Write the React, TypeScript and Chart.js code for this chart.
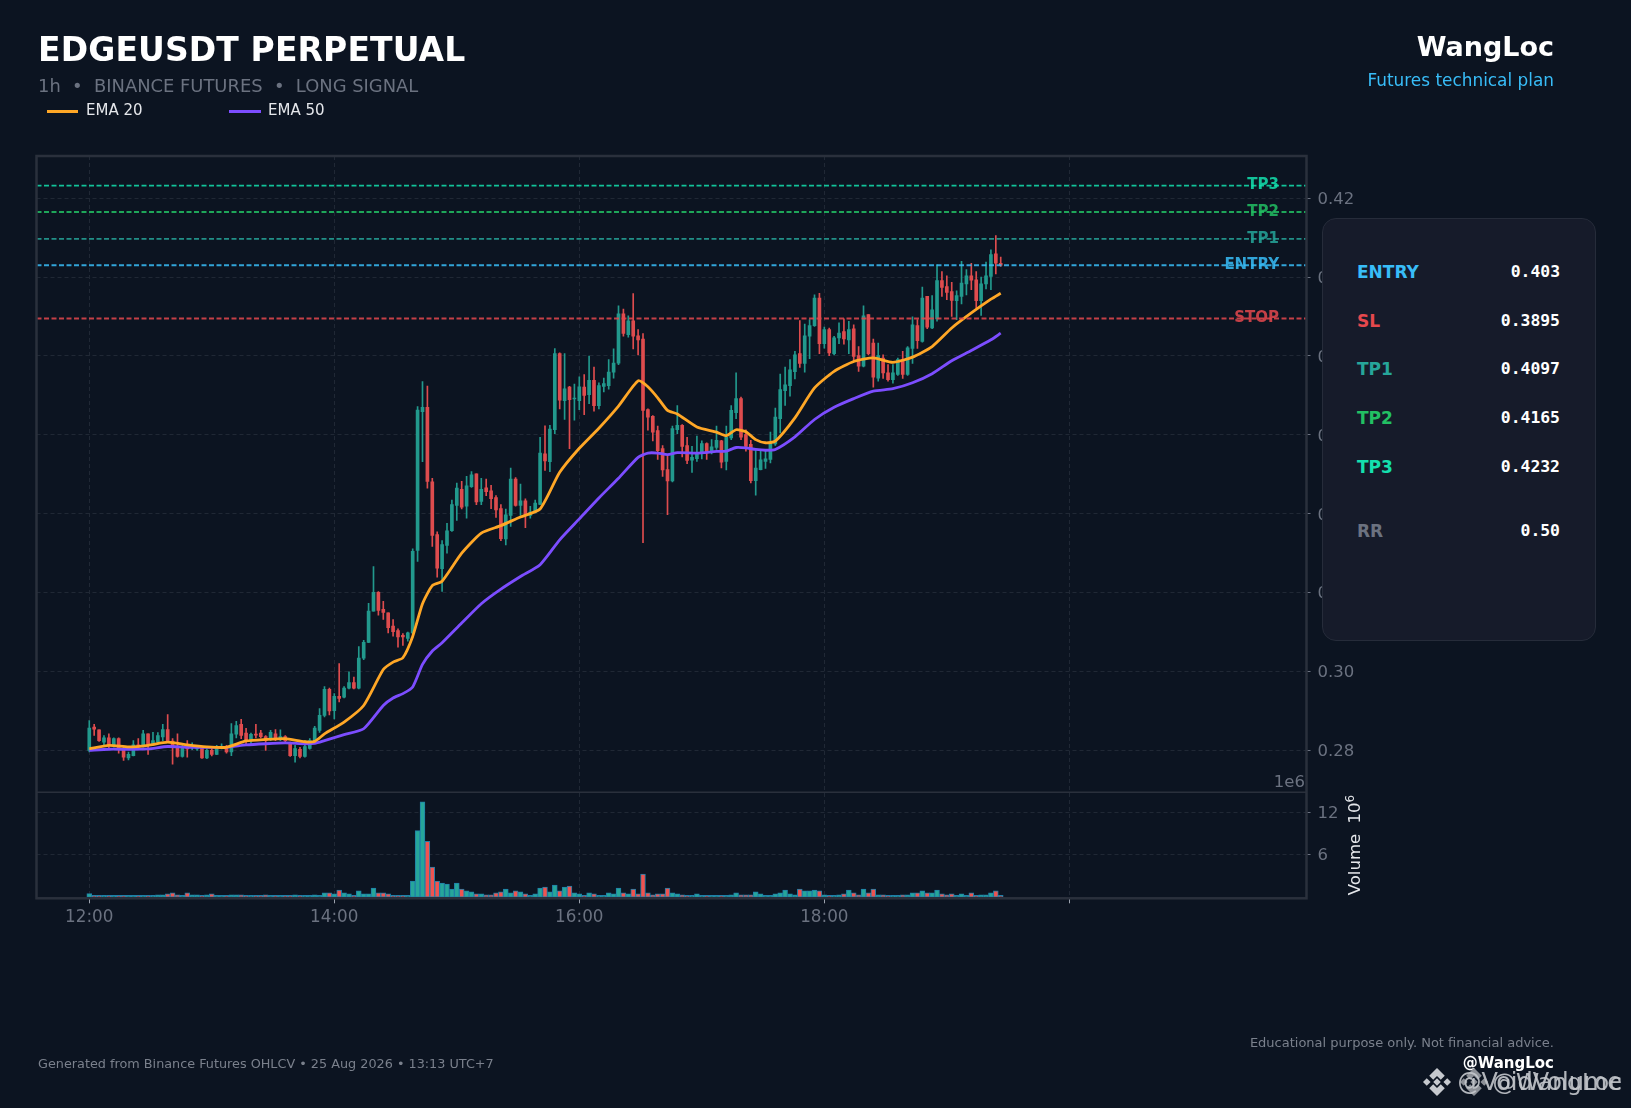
import { useEffect, useRef } from "react";
import { Chart, registerables } from "chart.js";
import type { ChartConfiguration, Plugin } from "chart.js";

Chart.register(...registerables);

const opens = [
  0.28, 0.2859, 0.2852, 0.2821, 0.2832, 0.2814, 0.283, 0.2803, 0.2781, 0.2787,
  0.2814, 0.281, 0.2842, 0.2814, 0.2821, 0.2834, 0.2853, 0.2824, 0.2808, 0.2785,
  0.2808, 0.2807, 0.2804, 0.2807, 0.2781, 0.28, 0.279, 0.2807, 0.2808, 0.2796,
  0.2841, 0.2866, 0.2844, 0.2824, 0.2841, 0.2844, 0.2835, 0.283, 0.2842, 0.283,
  0.2835, 0.2817, 0.2787, 0.2803, 0.2785, 0.2805, 0.2821, 0.2851, 0.2889, 0.2955,
  0.2901, 0.2937, 0.2935, 0.2958, 0.2972, 0.2958, 0.3034, 0.3074, 0.3153, 0.3201,
  0.3158, 0.3149, 0.3115, 0.3104, 0.3092, 0.3084, 0.3098, 0.3307, 0.3659, 0.367,
  0.3481, 0.3347, 0.3261, 0.332, 0.3357, 0.3421, 0.3462, 0.3419, 0.3469, 0.3501,
  0.3431, 0.3466, 0.3458, 0.3441, 0.3413, 0.3336, 0.3396, 0.3488, 0.3421, 0.3433,
  0.3396, 0.3404, 0.3424, 0.3552, 0.3532, 0.3613, 0.3806, 0.3687, 0.3721, 0.3691,
  0.3687, 0.3721, 0.3702, 0.3738, 0.3674, 0.3723, 0.3725, 0.3759, 0.3782, 0.3907,
  0.3854, 0.3889, 0.3851, 0.3843, 0.3664, 0.3647, 0.3611, 0.3565, 0.3512, 0.3483,
  0.3613, 0.3624, 0.3573, 0.3536, 0.354, 0.3554, 0.3578, 0.3557, 0.3568, 0.3585,
  0.3533, 0.3592, 0.3656, 0.3692, 0.3601, 0.3576, 0.3484, 0.3512, 0.3533, 0.3538,
  0.3577, 0.3641, 0.3712, 0.3725, 0.376, 0.3806, 0.3781, 0.385, 0.3877, 0.3947,
  0.3831, 0.3867, 0.3806, 0.3846, 0.3862, 0.3841, 0.3869, 0.3801, 0.3774, 0.3905,
  0.3833, 0.3744, 0.3795, 0.3757, 0.374, 0.3753, 0.3791, 0.3753, 0.3819, 0.3877,
  0.3837, 0.3951, 0.3871, 0.3894, 0.3991, 0.3976, 0.3963, 0.394, 0.3951, 0.3983,
  0.4003, 0.3993, 0.394, 0.3983, 0.4002, 0.4059, 0.4035,
];

const closes = [
  0.2857, 0.2854, 0.2825, 0.2832, 0.2813, 0.283, 0.2804, 0.2783, 0.279, 0.2814,
  0.2808, 0.2842, 0.2813, 0.2825, 0.2838, 0.2853, 0.2825, 0.2808, 0.2785, 0.2808,
  0.2804, 0.2813, 0.2808, 0.2781, 0.28, 0.279, 0.2808, 0.281, 0.2796, 0.2842,
  0.2863, 0.2838, 0.2824, 0.2841, 0.2839, 0.2835, 0.2825, 0.2846, 0.283, 0.2835,
  0.2825, 0.2787, 0.2805, 0.2785, 0.281, 0.2825, 0.2857, 0.2889, 0.2955, 0.29,
  0.2937, 0.2932, 0.2958, 0.2972, 0.2958, 0.3034, 0.3074, 0.3153, 0.3201, 0.3155,
  0.315, 0.3111, 0.3101, 0.3088, 0.3088, 0.3098, 0.3305, 0.3663, 0.367, 0.3482,
  0.3345, 0.3262, 0.3322, 0.3357, 0.3423, 0.3465, 0.3417, 0.3471, 0.3499, 0.343,
  0.3462, 0.3456, 0.3438, 0.341, 0.3337, 0.3397, 0.3488, 0.3421, 0.3433, 0.3397,
  0.3404, 0.3427, 0.3554, 0.3534, 0.3615, 0.3806, 0.3688, 0.3717, 0.3689, 0.3692,
  0.3722, 0.37, 0.3738, 0.3674, 0.3725, 0.373, 0.3759, 0.3782, 0.3907, 0.3857,
  0.3889, 0.385, 0.3841, 0.3662, 0.3645, 0.3607, 0.356, 0.3511, 0.3483, 0.3616,
  0.3624, 0.3571, 0.3535, 0.3543, 0.3554, 0.3578, 0.3554, 0.357, 0.3586, 0.3531,
  0.3594, 0.3662, 0.3692, 0.3594, 0.3571, 0.3484, 0.3516, 0.3537, 0.3539, 0.358,
  0.3645, 0.3715, 0.3727, 0.3765, 0.3803, 0.3781, 0.3851, 0.3877, 0.3947, 0.3831,
  0.3867, 0.3808, 0.3846, 0.3858, 0.3843, 0.3867, 0.3799, 0.3774, 0.3902, 0.3806,
  0.3746, 0.3801, 0.3757, 0.374, 0.3757, 0.3791, 0.3753, 0.3821, 0.3879, 0.3839,
  0.3947, 0.3873, 0.3917, 0.3991, 0.3974, 0.3961, 0.3941, 0.3953, 0.3985, 0.4003,
  0.3992, 0.394, 0.3983, 0.4003, 0.4057, 0.4035, 0.403,
];

const highs = [
  0.2876, 0.2866, 0.2852, 0.2838, 0.2842, 0.2832, 0.2832, 0.2808, 0.2796, 0.2825,
  0.283, 0.2851, 0.2842, 0.2846, 0.2845, 0.2866, 0.2891, 0.283, 0.2842, 0.2813,
  0.2825, 0.2819, 0.2813, 0.2808, 0.2804, 0.2808, 0.2813, 0.2817, 0.2813, 0.2868,
  0.2874, 0.2879, 0.2856, 0.2844, 0.2866, 0.2851, 0.2838, 0.2851, 0.2853, 0.2852,
  0.2838, 0.2821, 0.2813, 0.2808, 0.2825, 0.283, 0.2861, 0.2906, 0.2962, 0.2958,
  0.2944, 0.302, 0.2962, 0.2999, 0.2986, 0.3063, 0.3079, 0.3173, 0.3266, 0.3203,
  0.3178, 0.3149, 0.3132, 0.3108, 0.3096, 0.31, 0.3311, 0.3672, 0.3735, 0.3724,
  0.349, 0.3354, 0.3332, 0.3376, 0.3435, 0.3478, 0.3482, 0.3495, 0.3507, 0.3501,
  0.349, 0.3488, 0.3472, 0.3446, 0.3423, 0.3412, 0.3516, 0.3492, 0.3475, 0.3438,
  0.3419, 0.3435, 0.3594, 0.3623, 0.3624, 0.3819, 0.3808, 0.3806, 0.3723, 0.3729,
  0.3747, 0.3753, 0.38, 0.3772, 0.3732, 0.3744, 0.3791, 0.3818, 0.3927, 0.3919,
  0.3902, 0.3958, 0.3867, 0.3857, 0.3666, 0.3649, 0.3622, 0.3573, 0.3549, 0.3622,
  0.3674, 0.3626, 0.3594, 0.3571, 0.3597, 0.3585, 0.358, 0.3588, 0.3622, 0.3586,
  0.3622, 0.3674, 0.3757, 0.3696, 0.3613, 0.3586, 0.3561, 0.3559, 0.3563, 0.3607,
  0.3668, 0.3754, 0.3772, 0.3791, 0.3812, 0.389, 0.3881, 0.3892, 0.3955, 0.3959,
  0.3873, 0.3871, 0.385, 0.3884, 0.3894, 0.3888, 0.3879, 0.3824, 0.3927, 0.3905,
  0.3843, 0.3833, 0.3803, 0.3778, 0.3778, 0.3795, 0.3812, 0.3824, 0.3899, 0.3892,
  0.3975, 0.3951, 0.3953, 0.4031, 0.4014, 0.4003, 0.3987, 0.3965, 0.404, 0.4019,
  0.4035, 0.4014, 0.4, 0.4038, 0.4069, 0.4105, 0.4051,
];

const lows = [
  0.2796, 0.2838, 0.2823, 0.2813, 0.2804, 0.2808, 0.2793, 0.2775, 0.2776, 0.2786,
  0.2804, 0.2808, 0.279, 0.2813, 0.2817, 0.2825, 0.2824, 0.2765, 0.2783, 0.2783,
  0.2783, 0.2802, 0.28, 0.278, 0.2779, 0.2786, 0.2789, 0.2804, 0.2793, 0.2787,
  0.2832, 0.283, 0.2817, 0.2817, 0.2832, 0.2832, 0.28, 0.2825, 0.2825, 0.2825,
  0.2821, 0.2785, 0.277, 0.2781, 0.2783, 0.2803, 0.2817, 0.2846, 0.2885, 0.289,
  0.288, 0.2923, 0.2933, 0.2956, 0.2956, 0.2956, 0.303, 0.3073, 0.3153, 0.3143,
  0.3132, 0.3098, 0.309, 0.3062, 0.3066, 0.3077, 0.3096, 0.3279, 0.3532, 0.3465,
  0.3317, 0.3239, 0.3203, 0.33, 0.3355, 0.3383, 0.3412, 0.3389, 0.3467, 0.3423,
  0.3423, 0.3446, 0.3413, 0.3391, 0.3332, 0.3321, 0.3368, 0.3419, 0.3396, 0.3365,
  0.3389, 0.3402, 0.3423, 0.351, 0.3507, 0.3603, 0.3666, 0.3639, 0.3565, 0.3637,
  0.3664, 0.3651, 0.3679, 0.366, 0.3666, 0.3709, 0.3716, 0.3744, 0.3778, 0.385,
  0.3848, 0.3818, 0.3803, 0.3327, 0.3612, 0.3585, 0.3538, 0.3495, 0.3398, 0.3481,
  0.3603, 0.3544, 0.3527, 0.3505, 0.3533, 0.3539, 0.3538, 0.3552, 0.3563, 0.3516,
  0.3511, 0.3588, 0.3641, 0.3588, 0.3559, 0.3478, 0.3447, 0.3511, 0.3515, 0.3529,
  0.3573, 0.3605, 0.3675, 0.3698, 0.3742, 0.3771, 0.3759, 0.3793, 0.3875, 0.3806,
  0.382, 0.3801, 0.3803, 0.3831, 0.383, 0.3806, 0.3788, 0.3761, 0.3772, 0.3803,
  0.3721, 0.3736, 0.3743, 0.3736, 0.3731, 0.3751, 0.3743, 0.3751, 0.3781, 0.3819,
  0.3835, 0.3869, 0.3869, 0.3888, 0.3951, 0.3943, 0.39, 0.3892, 0.3932, 0.3955,
  0.3968, 0.3922, 0.3903, 0.397, 0.3968, 0.4008, 0.4027,
];

// volume in millions
const volumes = [
  0.51, 0.19, 0.05, 0.19, 0.05, 0.05, 0.05, 0.19, 0.19, 0.05,
  0.05, 0.19, 0.19, 0.19, 0.33, 0.33, 0.47, 0.61, 0.33, 0.19,
  0.61, 0.33, 0.33, 0.09, 0.33, 0.47, 0.19, 0.19, 0.09, 0.33,
  0.33, 0.33, 0.05, 0.05, 0.05, 0.05, 0.33, 0.19, 0.19, 0.05,
  0.05, 0.19, 0.33, 0.05, 0.05, 0.05, 0.33, 0.19, 0.61, 0.61,
  0.47, 1.03, 0.61, 0.47, 0.19, 0.89, 0.47, 0.47, 1.31, 0.61,
  0.61, 0.47, 0.19, 0.19, 0.19, 0.14, 2.29, 9.43, 13.5, 7.9,
  4.25, 2.29, 2.0, 1.87, 1.17, 2.0, 1.17, 0.89, 0.75, 0.47,
  0.47, 0.33, 0.33, 0.61, 0.75, 1.17, 0.61, 0.89, 0.75, 0.47,
  0.28, 0.47, 1.31, 1.45, 0.75, 1.73, 0.89, 1.45, 1.59, 0.61,
  0.47, 0.28, 0.61, 0.47, 0.19, 0.19, 0.61, 0.47, 1.31, 0.61,
  0.47, 1.17, 0.47, 3.27, 0.61, 0.33, 0.47, 0.47, 1.31, 0.61,
  0.47, 0.33, 0.19, 0.19, 0.47, 0.09, 0.09, 0.19, 0.19, 0.19,
  0.19, 0.33, 0.61, 0.33, 0.33, 0.33, 0.75, 0.47, 0.19, 0.19,
  0.47, 0.61, 1.03, 0.47, 0.33, 1.17, 0.89, 0.89, 1.03, 0.89,
  0.33, 0.19, 0.19, 0.33, 0.47, 1.03, 0.61, 0.33, 1.17, 0.61,
  1.17, 0.33, 0.33, 0.19, 0.19, 0.09, 0.33, 0.33, 0.61, 0.61,
  0.89, 0.61, 0.61, 1.03, 0.47, 0.33, 0.47, 0.19, 0.47, 0.19,
  0.61, 0.19, 0.33, 0.33, 0.61, 0.89, 0.09,
];

const emaIndex = [
  0, 4, 8, 12, 16, 20, 24, 28, 32, 36, 40, 44, 46, 48, 52, 56, 60, 62, 64, 66,
  68, 70, 72, 76, 80, 84, 88, 92, 96, 100, 104, 108, 112, 114, 116, 118, 120,
  124, 128, 130, 132, 134, 136, 138, 140, 144, 148, 152, 156, 160, 164, 168,
  172, 176, 180, 184, 186,
];
const ema20 = [
  0.2804, 0.2813, 0.2809, 0.2813, 0.2821, 0.2814, 0.2809, 0.2808, 0.2824, 0.2828,
  0.283, 0.2822, 0.2823, 0.2842, 0.2872, 0.2914, 0.3005, 0.3024, 0.3035, 0.3089,
  0.3172, 0.3218, 0.3229, 0.33, 0.3351, 0.337, 0.3392, 0.3412, 0.3505, 0.3566,
  0.3617, 0.3673, 0.3737, 0.3722, 0.3694, 0.3662, 0.3653, 0.362, 0.3607, 0.3598,
  0.3613, 0.3608, 0.3588, 0.358, 0.3584, 0.3643, 0.3719, 0.3761, 0.3786, 0.3795,
  0.3784, 0.3797, 0.3824, 0.3871, 0.3909, 0.3944, 0.3959,
];
const ema50 = [
  0.28, 0.2803, 0.2803, 0.2804, 0.281, 0.2808, 0.2808, 0.2808, 0.2814, 0.2817,
  0.2819, 0.2817, 0.2818, 0.2825, 0.284, 0.2855, 0.2914, 0.2933, 0.2944, 0.2961,
  0.3018, 0.3052, 0.3073, 0.3123, 0.3172, 0.3209, 0.3241, 0.3271, 0.3334, 0.3387,
  0.344, 0.349, 0.3543, 0.3554, 0.3554, 0.355, 0.3555, 0.3554, 0.3558, 0.3559,
  0.3568, 0.3567, 0.3563, 0.3561, 0.3563, 0.3595, 0.3639, 0.367, 0.3692, 0.3711,
  0.3717, 0.3732, 0.3755, 0.3788, 0.3814, 0.3841, 0.3858,
];

const levelNames = ["TP3", "TP2", "TP1", "ENTRY", "STOP"];
const levelValues = [0.4232, 0.4165, 0.4097, 0.403, 0.3895];
const levelColors = ["#14e0ae", "#22c063", "#26a69a", "#38bdf8", "#e5484d"];

const timeTicks = [0, 50, 100, 150, 200];
const timeLabels = ["12:00", "14:00", "16:00", "18:00", ""];
const priceTicks = [0.28, 0.3, 0.32, 0.34, 0.36, 0.38, 0.4, 0.42];
const volumeTicks = [6, 12];

const panelNames = ["ENTRY", "SL", "TP1", "TP2", "TP3", "RR"];
const panelValues = ["0.403", "0.3895", "0.4097", "0.4165", "0.4232", "0.50"];
const panelColors = ["#38bdf8", "#e5484d", "#26a69a", "#22c063", "#14e0ae", "#6b7280"];
const panelRowY = [272, 321, 369, 418, 467, 531];

const BG = "#0c1421";
const FONT = "'DejaVu Sans', sans-serif";
const MONO = "'DejaVu Sans Mono', monospace";
const GRID = "#202835";
const FRAME = "#2a303c";
const TICK_TEXT = "#6b7280";
const FOOT_TEXT = "#7a808c";
const UP = "#22998d";
const DOWN = "#de4c4e";

const xMin = -10.77;
const xMax = 248.4;

const candleColors = closes.map((c, i) => (c >= opens[i] ? UP : DOWN));
const volumeColors = closes.map((c, i) => (c >= opens[i] ? "#26a69a" : "#ef5350"));

// frame round the plot, line between the two panes, names on the level lines
const framePlugin: Plugin = {
  id: "frame",
  afterDraw(chart) {
    const { ctx, chartArea } = chart;
    const yVol = chart.scales.yVol;
    const yPrice = chart.scales.y;
    ctx.save();
    ctx.strokeStyle = FRAME;
    ctx.lineWidth = 2.5;
    ctx.strokeRect(
      chartArea.left,
      chartArea.top,
      chartArea.right - chartArea.left,
      chartArea.bottom - chartArea.top
    );
    ctx.lineWidth = 1.5;
    ctx.beginPath();
    ctx.moveTo(chartArea.left, yVol.top);
    ctx.lineTo(chartArea.right, yVol.top);
    ctx.stroke();

    ctx.font = `bold 15px ${FONT}`;
    ctx.textAlign = "right";
    ctx.textBaseline = "middle";
    ctx.globalAlpha = 0.85;
    levelNames.forEach((name, i) => {
      ctx.fillStyle = levelColors[i];
      ctx.fillText(name, chartArea.right - 27.5, yPrice.getPixelForValue(levelValues[i]));
    });
    ctx.restore();
  },
};

function BinanceMark({ x, y, size, color }: { x: number; y: number; size: number; color: string }) {
  return (
    <svg
      viewBox="0 0 126 126"
      width={size}
      height={size}
      style={{ position: "absolute", left: x, top: y }}
    >
      <g fill={color}>
        <polygon points="63,0 98,35 80,53 63,36 46,53 28,35" />
        <polygon points="63,126 98,91 80,73 63,90 46,73 28,91" />
        <polygon points="0,63 17,46 34,63 17,80" />
        <polygon points="126,63 109,46 92,63 109,80" />
        <polygon points="63,46 80,63 63,80 46,63" />
      </g>
    </svg>
  );
}

function Text({ children, style }: { children: React.ReactNode; style: React.CSSProperties }) {
  return (
    <div style={{ position: "absolute", whiteSpace: "pre", fontFamily: FONT, ...style }}>
      {children}
    </div>
  );
}

export default function App() {
  const canvasRef = useRef<HTMLCanvasElement>(null);

  useEffect(() => {
    document.body.style.margin = "0";
    document.body.style.background = BG;
    if (!canvasRef.current) return;

    const config: ChartConfiguration = {
      type: "bar",
      data: {
        datasets: [
          ...levelNames.map((name, i) => ({
            type: "line" as const,
            label: name,
            data: [
              { x: xMin, y: levelValues[i] },
              { x: xMax, y: levelValues[i] },
            ],
            yAxisID: "y",
            borderColor: levelColors[i] + "d9",
            borderWidth: 1.8,
            borderDash: [5, 2.5],
            pointRadius: 0,
            order: 1,
          })),
          {
            type: "line" as const,
            label: "EMA 20",
            data: emaIndex.map((x, i) => ({ x, y: ema20[i] })),
            yAxisID: "y",
            borderColor: "#ffa726",
            borderWidth: 2.8,
            pointRadius: 0,
            tension: 0.2,
            order: 2,
          },
          {
            type: "line" as const,
            label: "EMA 50",
            data: emaIndex.map((x, i) => ({ x, y: ema50[i] })),
            yAxisID: "y",
            borderColor: "#7c4dff",
            borderWidth: 2.8,
            pointRadius: 0,
            tension: 0.2,
            order: 3,
          },
          {
            label: "Body",
            data: opens.map((o, i) => ({ x: i, y: [o, closes[i]] })) as any,
            yAxisID: "y",
            backgroundColor: candleColors,
            barThickness: 3,
            minBarLength: 1,
            grouped: false,
            order: 4,
          },
          {
            label: "Wick",
            data: lows.map((l, i) => ({ x: i, y: [l, highs[i]] })) as any,
            yAxisID: "y",
            backgroundColor: candleColors,
            barThickness: 1,
            grouped: false,
            order: 5,
          },
          {
            label: "Volume",
            data: volumes.map((v, i) => ({ x: i, y: v })),
            yAxisID: "yVol",
            backgroundColor: volumeColors,
            borderColor: "#1f7fa8",
            borderWidth: 1,
            borderSkipped: false,
            barThickness: 4.9,
            minBarLength: 2,
            grouped: false,
            order: 6,
          },
        ],
      },
      options: {
        responsive: false,
        animation: false,
        devicePixelRatio: 1,
        layout: { padding: { left: 36.5, top: 156, right: 264.5, bottom: 169.7 } },
        plugins: { legend: { display: false }, tooltip: { enabled: false } },
        scales: {
          x: {
            type: "linear",
            min: xMin,
            max: xMax,
            offset: false,
            afterBuildTicks: (scale) => {
              scale.ticks = timeTicks.map((value) => ({ value }));
            },
            afterFit: (scale) => {
              scale.height = 40;
            },
            grid: {
              offset: false,
              color: GRID,
              tickColor: "#9ca3af",
              tickLength: 5,
              tickBorderDash: [],
            },
            border: { display: false, dash: [4, 3] },
            ticks: {
              color: TICK_TEXT,
              font: { family: FONT, size: 16.8 },
              padding: 4,
              maxRotation: 0,
              autoSkip: false,
              callback: (value) => timeLabels[timeTicks.indexOf(Number(value))],
            },
          },
          y: {
            type: "linear",
            position: "right",
            stack: "panes",
            stackWeight: 636,
            min: 0.2694,
            max: 0.4307,
            afterBuildTicks: (scale) => {
              scale.ticks = priceTicks.map((value) => ({ value }));
            },
            afterFit: (scale) => {
              scale.width = 60;
            },
            grid: { color: GRID, tickColor: "#6b7280", tickLength: 4, tickBorderDash: [] },
            border: { display: false, dash: [4, 3] },
            ticks: {
              color: TICK_TEXT,
              font: { family: FONT, size: 16.5 },
              padding: 7,
              labelOffset: 1.5,
              callback: (value) => Number(value).toFixed(2),
            },
          },
          yVol: {
            type: "linear",
            position: "right",
            stack: "panes",
            stackWeight: 106,
            min: -0.15,
            max: 14.85,
            afterBuildTicks: (scale) => {
              scale.ticks = volumeTicks.map((value) => ({ value }));
            },
            afterFit: (scale) => {
              scale.width = 60;
            },
            grid: { color: GRID, tickColor: "#6b7280", tickLength: 4, tickBorderDash: [] },
            border: { display: false, dash: [4, 3] },
            ticks: {
              color: TICK_TEXT,
              font: { family: FONT, size: 16.5 },
              padding: 7,
              labelOffset: 1,
              callback: (value) => String(value),
            },
          },
        },
      },
      plugins: [framePlugin],
    };

    const chart = new Chart(canvasRef.current, config);
    return () => chart.destroy();
  }, []);

  return (
    <div
      style={{
        position: "absolute",
        left: 0,
        top: 0,
        width: 1631,
        height: 1108,
        overflow: "hidden",
        background: BG,
      }}
    >
      <canvas ref={canvasRef} width={1631} height={1108} style={{ position: "absolute", left: 0, top: 0 }} />

      <Text style={{ left: 38, top: 30, fontSize: 33, fontWeight: 700, color: "#fff", lineHeight: "40px", letterSpacing: 0.12 }}>
        EDGEUSDT PERPETUAL
      </Text>
      <Text style={{ left: 38, top: 75, fontSize: 17.9, color: TICK_TEXT, lineHeight: "22px" }}>
        1h  •  BINANCE FUTURES  •  LONG SIGNAL
      </Text>

      <div style={{ position: "absolute", left: 47, top: 110, width: 31, height: 3, background: "#ffa726" }} />
      <Text style={{ left: 86, top: 100, fontSize: 15, color: "#e5e7eb", lineHeight: "20px" }}>EMA 20</Text>
      <div style={{ position: "absolute", left: 229, top: 110, width: 32, height: 3, background: "#7c4dff" }} />
      <Text style={{ left: 268, top: 100, fontSize: 15, color: "#e5e7eb", lineHeight: "20px" }}>EMA 50</Text>

      <Text style={{ right: 77, top: 30, fontSize: 27, fontWeight: 700, color: "#fff", lineHeight: "34px" }}>WangLoc</Text>
      <Text style={{ right: 77, top: 70, fontSize: 16.9, color: "#38bdf8", lineHeight: "20px" }}>
        Futures technical plan
      </Text>

      <div
        style={{
          position: "absolute",
          left: 1322,
          top: 218,
          width: 274,
          height: 423,
          boxSizing: "border-box",
          background: "#161b2a",
          border: "1.5px solid #262c3a",
          borderRadius: 14,
        }}
      />
      {panelNames.map((name, i) => (
        <Text
          key={name}
          style={{
            left: 1357,
            top: panelRowY[i] - 11,
            fontSize: 17,
            fontWeight: 700,
            color: panelColors[i],
            lineHeight: "22px",
          }}
        >
          {name}
        </Text>
      ))}
      {panelValues.map((value, i) => (
        <Text
          key={panelNames[i]}
          style={{
            right: 71,
            top: panelRowY[i] - 11,
            fontFamily: MONO,
            fontSize: 16.4,
            fontWeight: 700,
            color: "#fff",
            lineHeight: "22px",
          }}
        >
          {value}
        </Text>
      ))}

      <Text style={{ right: 326, top: 772, fontSize: 16.5, color: TICK_TEXT, lineHeight: "20px" }}>1e6</Text>
      <Text
        style={{
          left: 1355,
          top: 845,
          fontSize: 16.5,
          color: "#e5e7eb",
          lineHeight: "20px",
          transform: "translate(-50%, -50%) rotate(-90deg)",
        }}
      >
        Volume  10<sup style={{ fontSize: 12, lineHeight: 0 }}>6</sup>
      </Text>

      <Text style={{ left: 38, top: 1055, fontSize: 12.8, color: FOOT_TEXT, lineHeight: "18px" }}>
        Generated from Binance Futures OHLCV • 25 Aug 2026 • 13:13 UTC+7
      </Text>
      <Text style={{ right: 77, top: 1034, fontSize: 13, color: FOOT_TEXT, lineHeight: "18px" }}>
        Educational purpose only. Not financial advice.
      </Text>
      <Text style={{ right: 77, top: 1054, fontSize: 15, fontWeight: 700, color: "#fff", lineHeight: "18px" }}>
        @WangLoc
      </Text>

      <BinanceMark x={1423} y={1068} size={28} color="#c6c9ce" />
      <BinanceMark x={1460} y={1068} size={28} color="#8b8f96" />
      <Text style={{ right: 9, top: 1066, fontSize: 24, color: "#c4c7cc", lineHeight: "32px", opacity: 0.9 }}>
        @VoidVolume
      </Text>
      <Text style={{ right: 9, top: 1066, fontSize: 23.5, color: "#c4c7cc", lineHeight: "32px", opacity: 0.9 }}>
        @WangLoc
      </Text>
    </div>
  );
}
